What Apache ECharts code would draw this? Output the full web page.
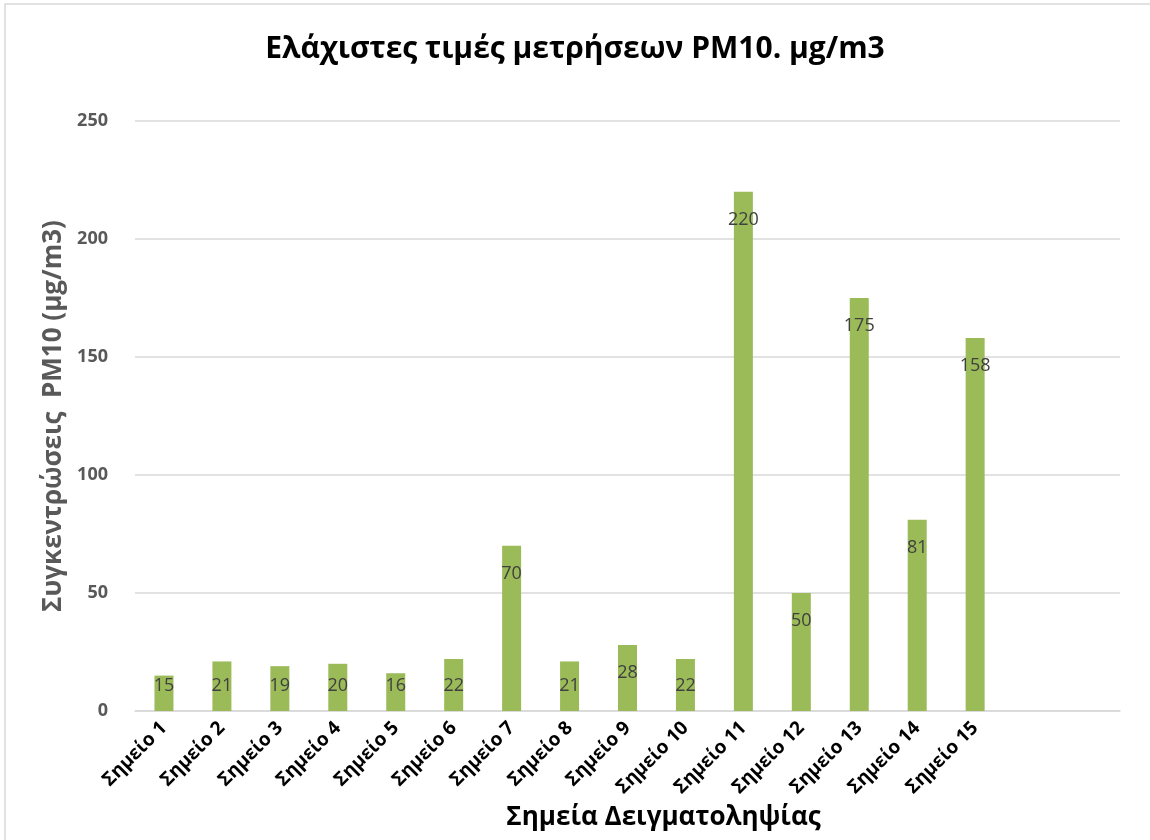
<!DOCTYPE html>
<html>
<head>
<meta charset="utf-8">
<script src="https://cdn.jsdelivr.net/npm/echarts@6/dist/echarts.min.js"></script>
<style>
html,body{margin:0;padding:0;background:#fff;}
#chart{width:1150px;height:840px;}
</style>
</head>
<body>
<div id="chart"></div>
<script>
const categories = ['Σημείο 1','Σημείο 2','Σημείο 3','Σημείο 4','Σημείο 5','Σημείο 6','Σημείο 7','Σημείο 8','Σημείο 9','Σημείο 10','Σημείο 11','Σημείο 12','Σημείο 13','Σημείο 14','Σημείο 15','',''];
const values = [15,21,19,20,16,22,70,21,28,22,220,50,175,81,158,null,null];
const yTicks = [0,50,100,150,200,250];

const FONT = '"Open Sans", "Noto Sans", sans-serif';
const chart = echarts.init(document.getElementById('chart'));
chart.setOption({
  animation:false,
  backgroundColor:'#fff',
  graphic:[{type:'rect',shape:{x:5,y:4,width:1300,height:1000},style:{fill:'none',stroke:'#d9d9d9',lineWidth:1.5},silent:true}],
  title:{text:'Ελάχιστες τιμές μετρήσεων PM10. μg/m3',left:'center',top:29,
    textStyle:{fontFamily:FONT,fontWeight:'bold',fontSize:30,color:'#000'}},
  grid:{left:135,right:30,top:121,bottom:129,containLabel:false},
  xAxis:{type:'category',data:categories,
    axisLine:{lineStyle:{color:'#d9d9d9',width:1.5}},axisTick:{show:false},
    axisLabel:{interval:0,rotate:45,color:'#000',fontWeight:'bold',fontFamily:FONT,fontSize:19,margin:14},
    name:'Σημεία Δειγματοληψίας',nameLocation:'middle',nameGap:80,
    nameTextStyle:{fontFamily:FONT,fontWeight:'bold',fontSize:26,color:'#000',padding:[0,0,0,72]}},
  yAxis:{type:'value',min:yTicks[0],max:yTicks[yTicks.length-1],interval:50,
    axisLine:{show:false},axisTick:{show:false},
    splitLine:{lineStyle:{color:'#d9d9d9',width:1.5}},
    axisLabel:{color:'#595959',fontWeight:'bold',fontFamily:FONT,fontSize:18,margin:27,
      formatter:v=>yTicks.includes(v)?String(v):''},
    name:'Συγκεντρώσεις  PM10 (μg/m3)',nameLocation:'middle',nameGap:57,
    nameTextStyle:{fontFamily:FONT,fontWeight:'bold',fontSize:26,color:'#595959'}},
  series:[{type:'bar',data:values,barWidth:19,itemStyle:{color:'#9bbb59'},
    label:{show:true,position:'insideTop',color:'#404040',fontFamily:FONT,fontSize:18,
      formatter:p=>p.value==null?'':String(p.value)},
    labelLayout:function(p){
      const r=p.rect;
      const cy=Math.min(r.y+28, r.y+r.height-25);
      return {x:r.x+r.width/2, y:cy, align:'center', verticalAlign:'middle'};
    }
  }]
});
</script>
</body>
</html>
